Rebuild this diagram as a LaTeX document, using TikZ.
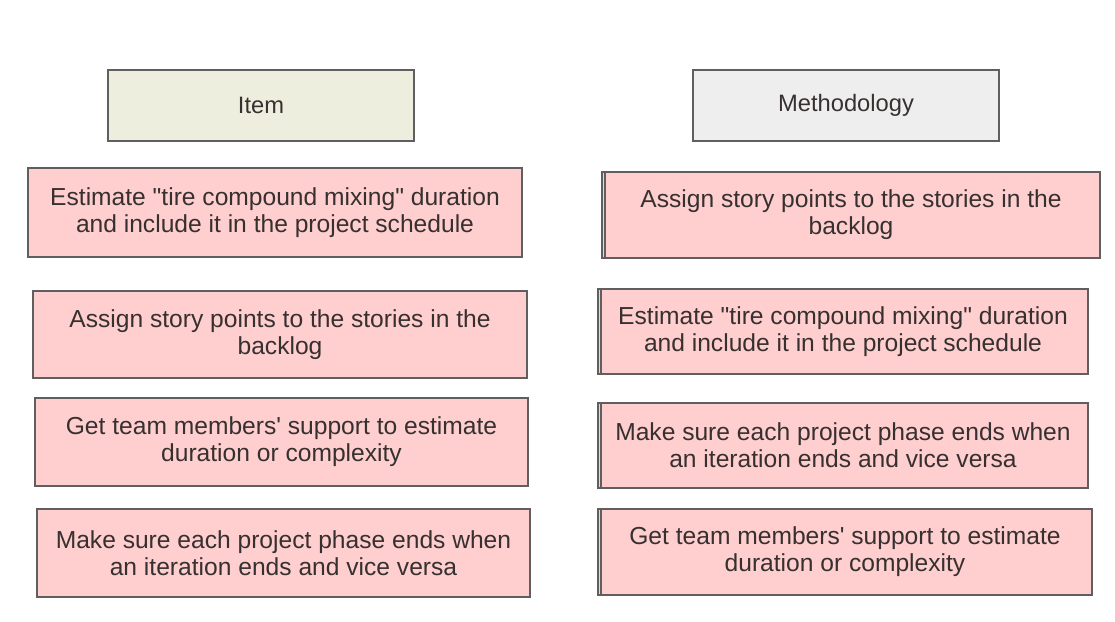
\documentclass[tikz,border=0pt]{standalone}
\usepackage{fontspec}
\setmainfont{Liberation Sans}[Ligatures=TeXOff]
\definecolor{pinkfill}{RGB}{255,206,206}
\definecolor{creamfill}{RGB}{238,238,222}
\definecolor{greyfill}{RGB}{238,238,238}
\definecolor{boxline}{RGB}{95,95,95}
\definecolor{boxtext}{RGB}{55,48,48}
\tikzset{
    headbox/.style={draw=boxline, line width=1.1pt, minimum width=6.12cm, minimum height=1.42cm, font=\fontsize{13.5}{15.3}\selectfont, text=boxtext},
    itembox/.style={draw=boxline, line width=1.1pt, fill=pinkfill, align=center, minimum height=1.74cm, font=\fontsize{14}{15.4}\selectfont, text=boxtext},
}
\begin{document}
\begin{tikzpicture}
\useasboundingbox (0,0) rectangle (22.3,12.44);
\node[headbox, fill=creamfill] (item) at (5.22,10.33) {Item};
\node[headbox, fill=greyfill] (method) at (16.92,10.33) {Methodology};

\node[itembox, minimum width=9.88cm, minimum height=1.78cm] (l1) at (5.50,8.19) {Estimate "tire compound mixing" duration\\and include it in the project schedule};
\node[itembox, minimum width=9.88cm] (l2) at (5.60,5.75) {Assign story points to the stories in the\\backlog};
\node[itembox, minimum width=9.86cm, minimum height=1.76cm] (l3) at (5.63,3.60) {Get team members' support to estimate\\duration or complexity};
\node[itembox, minimum width=9.86cm, minimum height=1.76cm] (l4) at (5.67,1.38) {Make sure each project phase ends when\\an iteration ends and vice versa};

\node[itembox, minimum width=9.96cm, minimum height=1.72cm] (r1) at (17.02,8.14) {Assign story points to the stories in the\\backlog};
\node[itembox, minimum width=9.80cm, minimum height=1.70cm] (r2) at (16.86,5.81) {Estimate "tire compound mixing" duration\\and include it in the project schedule};
\node[itembox, minimum width=9.80cm, minimum height=1.70cm] (r3) at (16.86,3.53) {Make sure each project phase ends when\\an iteration ends and vice versa};
\node[itembox, minimum width=9.88cm, minimum height=1.72cm] (r4) at (16.90,1.40) {Get team members' support to estimate\\duration or complexity};

\foreach \b in {r1,r2,r3,r4}
{
    \draw[boxline, line width=1.1pt] ([xshift=2.5pt]\b.north west)--([xshift=2.5pt]\b.south west);
}
\end{tikzpicture}
\end{document}
